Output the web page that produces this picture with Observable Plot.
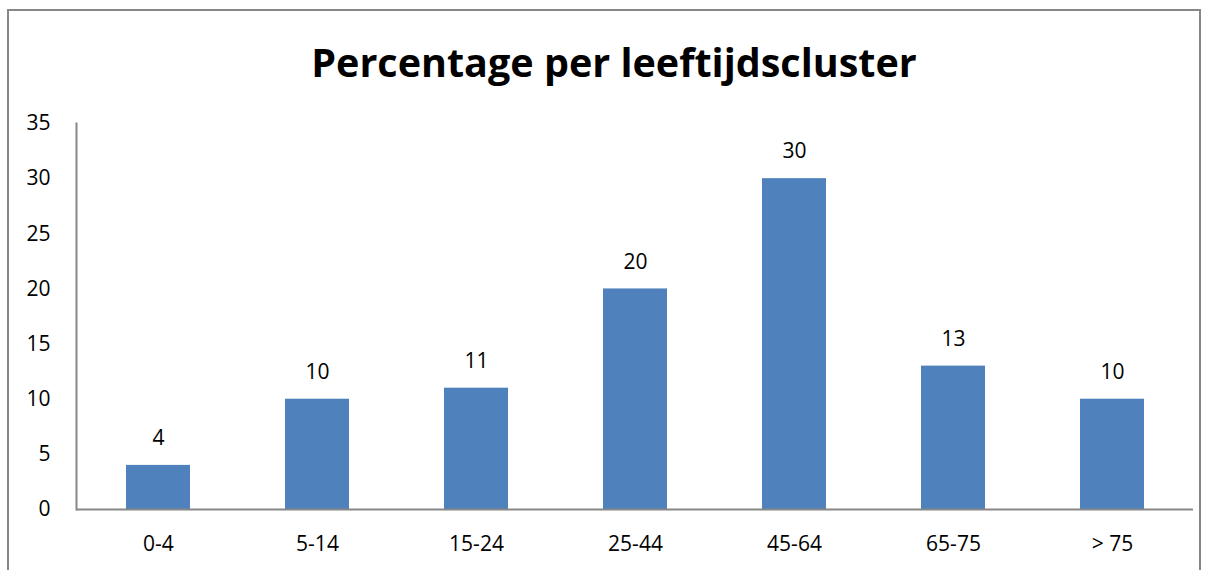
<!DOCTYPE html>
<html>
<head>
<meta charset="utf-8">
<script src="https://cdn.jsdelivr.net/npm/d3@7"></script>
<script src="https://cdn.jsdelivr.net/npm/@observablehq/plot@0.6"></script>
<style>
  html, body { margin: 0; padding: 0; background: #fff; }
  #wrap { position: relative; width: 1212px; height: 570px; overflow: hidden; background: #fff; }
  #frame { position: absolute; left: 7px; top: 9px; width: 1194px; height: 620px; border: 2px solid #878787; box-sizing: border-box; }
  #title { position: absolute; left: 0; width: 1228px; top: 35px; text-align: center; font-family: "Open Sans", sans-serif; font-weight: bold; font-size: 39.5px; color: #000; line-height: 54px; }
  #chart { position: absolute; left: 0; top: 0; }
</style>
</head>
<body>
<div id="wrap">
  <div id="frame"></div>
  <div id="title">Percentage per leeftijdscluster</div>
  <div id="chart"></div>
</div>
<script>
const categories = ["0-4", "5-14", "15-24", "25-44", "45-64", "65-75", "> 75"];
const values = [4, 10, 11, 20, 30, 13, 10];
const yTicks = [0, 5, 10, 15, 20, 25, 30, 35];

const data = categories.map((c, i) => ({ cat: c, val: values[i] }));

const chart = Plot.plot({
  width: 1212,
  height: 570,
  marginLeft: 76,
  marginRight: 19,
  marginTop: 123,
  marginBottom: 61,
  style: { fontFamily: "Open Sans, sans-serif", fontSize: "21px", color: "#000", background: "transparent" },
  x: { domain: categories, paddingInner: 0.6, paddingOuter: 0.3, label: null },
  y: { domain: [0, 35], label: null },
  marks: [
    Plot.axisY({ ticks: yTicks, tickSize: 0, tickPadding: 26, fontSize: 21, label: null }),
    Plot.axisX({ tickSize: 0, tickPadding: 27, fontSize: 21, label: null }),
    Plot.barY(data, { x: "cat", y: "val", fill: "#4F81BD" }),
    Plot.text(data, { x: "cat", y: "val", text: d => String(d.val), dy: -27, fontSize: 21, fill: "#000" }),
    Plot.frame({ anchor: "left", stroke: "#878787", strokeWidth: 2 }),
    Plot.ruleY([0], { stroke: "#878787", strokeWidth: 2 })
  ]
});
document.getElementById("chart").appendChild(chart);
</script>
</body>
</html>
